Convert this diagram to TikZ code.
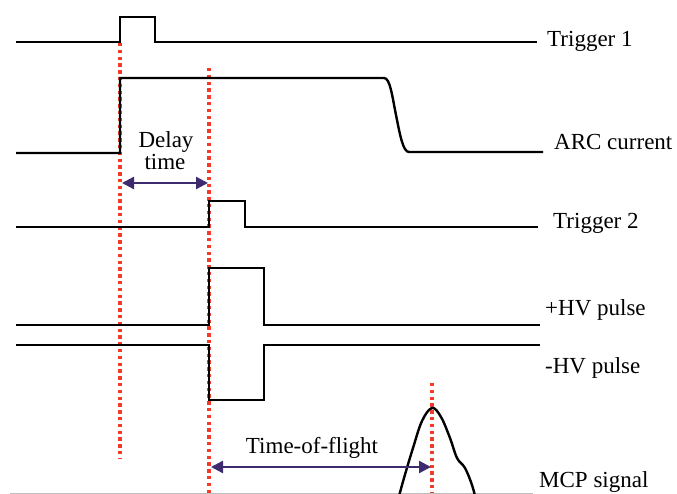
\documentclass[tikz,border=0pt]{standalone}
\usepackage{fontspec}
\setmainfont{Liberation Serif}
\usetikzlibrary{arrows.meta}
\definecolor{dotred}{RGB}{242,60,40}
\definecolor{arrowpurple}{RGB}{62,42,110}
\tikzset{
  sig/.style={line width=2.4pt, black, line join=miter},
  marker/.style={dotred, line width=3.6pt, dash pattern=on 3.4pt off 3.4pt},
  span/.style={arrowpurple, line width=2.4pt, {Triangle[length=12pt,width=12pt]}-{Triangle[length=12pt,width=12pt]}},
  lab/.style={font=\fontsize{23}{26}\selectfont, anchor=base west, inner sep=0pt},
  midlab/.style={font=\fontsize{23}{26}\selectfont, anchor=base, inner sep=0pt}
}
\begin{document}
\begin{tikzpicture}[x=1pt,y=-1pt]
\useasboundingbox (0,0) rectangle (677,494);
\begin{scope}
\clip (0,0) rectangle (677,494);
% red dotted markers
\draw[marker] (120,43) -- (120,458);
\draw[marker] (209,68) -- (209,494);
\draw[marker] (432,383) -- (432,494);
% Trigger 1
\draw[sig] (16,42) -- (120,42) -- (120,17) -- (155,17) -- (155,42) -- (537,42);
% ARC current
\draw[sig] (16,153) -- (120,153) -- (120,78) -- (384,78)
  .. controls (390,78) and (392,95) .. (396,115)
  .. controls (400,135) and (403,152) .. (409,152) -- (543,152);
% Trigger 2
\draw[sig] (16,227) -- (209,227) -- (209,201) -- (245,201) -- (245,227) -- (538,227);
% +HV pulse
\draw[sig] (16,325) -- (209,325) -- (209,268) -- (264,268) -- (264,325) -- (540,325);
% -HV pulse
\draw[sig] (16,345) -- (209,345) -- (209,400) -- (264,400) -- (264,345) -- (540,345);
% MCP signal
\draw[black!25, line width=1pt] (10,493.5) -- (533,493.5);
\draw[sig, line join=round] plot[smooth, tension=0.6] coordinates {(398,500) (404,478) (413,448) (422,421) (432,408) (441,417) (450,438) (457,458) (465,468) (472,485) (476,500)};
\end{scope}
% spans
\coordinate (d1) at (122,183);
\coordinate (d2) at (208,183);
\draw[span] (d1) -- (d2);
\coordinate (t1) at (211,467);
\coordinate (t2) at (431,467);
\draw[span] (t1) -- (t2);
\node[midlab] (delay) at (166,148) {Delay};
\node[midlab] (time) at (165,170) {time};
\node[midlab] (tof) at (312,453) {Time-of-flight};
% labels
\node[lab] (trig1) at (547,47) {Trigger 1};
\node[lab] (arc) at (554,150) {ARC current};
\node[lab] (trig2) at (553,229) {Trigger 2};
\node[lab] (hvp) at (545,316) {+HV pulse};
\node[lab] (hvm) at (545,373) {-HV pulse};
\node[lab] (mcp) at (539,487) {MCP signal};
\end{tikzpicture}
\end{document}
